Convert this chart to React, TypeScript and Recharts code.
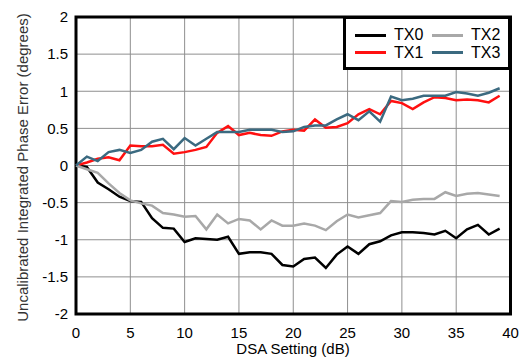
import React from 'react';
import { LineChart, Line, XAxis, YAxis, CartesianGrid, ReferenceArea } from 'recharts';

const dsa = Array.from({ length: 40 }, (_, i) => i);
const tx0 = [0, -0.02, -0.23, -0.32, -0.42, -0.48, -0.49, -0.71, -0.84, -0.85, -1.03, -0.98, -0.99, -1.0, -0.96, -1.19, -1.17, -1.17, -1.19, -1.34, -1.36, -1.26, -1.24, -1.38, -1.2, -1.09, -1.19, -1.06, -1.02, -0.94, -0.9, -0.9, -0.91, -0.93, -0.88, -0.98, -0.86, -0.8, -0.93, -0.85];
const tx1 = [0, 0.04, 0.09, 0.11, 0.07, 0.27, 0.26, 0.26, 0.28, 0.16, 0.18, 0.21, 0.25, 0.44, 0.53, 0.41, 0.44, 0.41, 0.4, 0.46, 0.48, 0.47, 0.62, 0.51, 0.52, 0.57, 0.69, 0.76, 0.69, 0.87, 0.84, 0.76, 0.85, 0.92, 0.91, 0.88, 0.89, 0.88, 0.85, 0.94];
const tx2 = [0, -0.05, -0.1, -0.24, -0.37, -0.47, -0.51, -0.54, -0.64, -0.66, -0.69, -0.68, -0.86, -0.66, -0.78, -0.72, -0.74, -0.86, -0.74, -0.81, -0.81, -0.78, -0.81, -0.87, -0.75, -0.66, -0.7, -0.67, -0.64, -0.48, -0.49, -0.46, -0.45, -0.45, -0.36, -0.41, -0.38, -0.37, -0.39, -0.41];
const tx3 = [0, 0.12, 0.06, 0.18, 0.21, 0.17, 0.21, 0.32, 0.36, 0.22, 0.37, 0.27, 0.36, 0.45, 0.45, 0.45, 0.48, 0.48, 0.48, 0.45, 0.46, 0.52, 0.54, 0.54, 0.62, 0.69, 0.61, 0.73, 0.59, 0.93, 0.88, 0.9, 0.94, 0.94, 0.94, 0.99, 0.97, 0.94, 0.98, 1.04];

const seriesNames = ['TX0', 'TX1', 'TX2', 'TX3'];
const seriesColors = ['#000000', '#ff1010', '#a8a8a8', '#3b6a80'];
const xTicks = [0, 5, 10, 15, 20, 25, 30, 35, 40];
const yTicks = [-2, -1.5, -1, -0.5, 0, 0.5, 1, 1.5, 2];
const xTitle = 'DSA Setting (dB)';
const yTitle = 'Uncalibrated Integrated Phase Error (degrees)';

const data = dsa.map((x, i) => ({ x, TX0: tx0[i], TX1: tx1[i], TX2: tx2[i], TX3: tx3[i] }));

const FONT = '"Liberation Sans", Arial, sans-serif';

const legendPos = [
  { line: 9, text: 48, row: 16 },
  { line: 9, text: 48, row: 33.5 },
  { line: 86, text: 125, row: 16 },
  { line: 86, text: 125, row: 33.5 },
];

const css =
  'body{margin:8px 0 0 8px;} #root{width:513px;height:350px;} ' +
  '.recharts-wrapper, .recharts-wrapper svg.recharts-surface { overflow: visible !important; }';

export default function App() {
  return (
    <div style={{ position: 'relative', width: 513, height: 350, fontFamily: FONT }}>
      <style>{css}</style>
      <LineChart width={513} height={350} data={data} margin={{ top: 9, right: 10.5, left: 0, bottom: 0 }}>
        <CartesianGrid stroke="#8f8f8f" strokeWidth={1} />
        <XAxis
          dataKey="x"
          type="number"
          domain={[0, 40]}
          ticks={xTicks}
          tickLine={false}
          axisLine={false}
          height={44}
          tickMargin={7}
          tick={{ fontSize: 15, fill: '#000', fontFamily: FONT }}
          interval={0}
          label={{
            content: () => (
              <text x={285} y={346} textAnchor="middle" fontSize={15} fontFamily={FONT} fill="#000">
                {xTitle}
              </text>
            ),
          }}
        />
        <YAxis
          type="number"
          domain={[-2, 2]}
          ticks={yTicks}
          tickLine={false}
          axisLine={false}
          width={68}
          interval={0}
          tick={{ fontSize: 15, fill: '#000', fontFamily: FONT }}
          label={{
            content: () => (
              <text
                x={20}
                y={159.5}
                textAnchor="middle"
                fontSize={15}
                fontFamily={FONT}
                fill="#333"
                transform="rotate(-90, 20, 159.5)"
              >
                {yTitle}
              </text>
            ),
          }}
        />
        {seriesNames.map((name, i) => (
          <Line
            key={name}
            dataKey={name}
            stroke={seriesColors[i]}
            strokeWidth={2.5}
            dot={false}
            isAnimationActive={false}
            type="linear"
          />
        ))}
        <ReferenceArea x1={0} x2={40} y1={-2} y2={2} fill="none" stroke="#000" strokeWidth={3} fillOpacity={0} />
      </LineChart>
      <div
        style={{
          position: 'absolute',
          left: 335,
          top: 8,
          width: 168,
          height: 54,
          border: '3px solid #000',
          boxSizing: 'border-box',
          background: '#fff',
        }}
      >
        {seriesNames.map((name, i) => (
          <React.Fragment key={name}>
            <div
              style={{
                position: 'absolute',
                left: legendPos[i].line,
                top: legendPos[i].row - 1.5,
                width: 31,
                height: 3,
                background: seriesColors[i],
              }}
            />
            <div
              style={{
                position: 'absolute',
                left: legendPos[i].text,
                top: legendPos[i].row - 9,
                height: 18,
                lineHeight: '18px',
                fontSize: 16,
                color: '#000',
              }}
            >
              {name}
            </div>
          </React.Fragment>
        ))}
      </div>
    </div>
  );
}
